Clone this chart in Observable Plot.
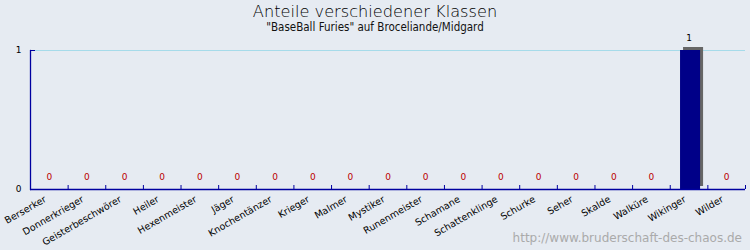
<!DOCTYPE html>
<html>
<head>
<meta charset="utf-8">
<script src="https://cdn.jsdelivr.net/npm/d3@7"></script>
<script src="https://cdn.jsdelivr.net/npm/@observablehq/plot@0.6"></script>
<style>
  html, body { margin: 0; padding: 0; background: #e6ebf2; }
  #wrap { position: relative; width: 750px; height: 250px; overflow: hidden; background: #e6ebf2; }
  #title { position: absolute; left: 0; width: 750px; top: 2px; text-align: center; font-family: "DejaVu Sans"; font-weight: 200; font-size: 16.2px; color: #000; }
  #subtitle { position: absolute; left: 0; width: 750px; top: 20px; text-align: center; font-family: "DejaVu Sans Condensed", "DejaVu Sans"; font-stretch: condensed; font-size: 11.5px; color: #111; }
  #credit { position: absolute; right: 8px; top: 231px; font-family: "DejaVu Sans"; font-size: 12px; color: #aaaaaa; }
  #chart { position: absolute; left: 0; top: 0; }
</style>
</head>
<body>
<div id="wrap">
  <div id="chart"></div>
  <div id="title">Anteile verschiedener Klassen</div>
  <div id="subtitle">"BaseBall Furies" auf Broceliande/Midgard</div>
  <div id="credit">http://www.bruderschaft-des-chaos.de</div>
</div>
<script>
const classes = ["Berserker","Donnerkrieger","Geisterbeschwörer","Heiler","Hexenmeister","Jäger","Knochentänzer","Krieger","Malmer","Mystiker","Runenmeister","Schamane","Schattenklinge","Schurke","Seher","Skalde","Walküre","Wikinger","Wilder"];
const counts = [0,0,0,0,0,0,0,0,0,0,0,0,0,0,0,0,0,1,0];
const yTicks = [0, 1];

const data = classes.map((k, i) => ({klasse: k, n: counts[i]}));

const W = 750, H = 250, ML = 30, MR = 5, MT = 50, MB = 61;
const bw = (W - ML - MR) / classes.length;
const axisColor = "#0000a0";

const chart = Plot.plot({
  width: W, height: H,
  marginLeft: ML, marginRight: MR, marginTop: MT, marginBottom: MB,
  style: {background: "transparent", fontFamily: "DejaVu Sans", fontSize: "9px", color: "#000"},
  x: {domain: classes, padding: 0, round: false, label: null},
  y: {domain: [0, 1], label: null},
  marks: [
    Plot.gridY(yTicks.filter(v => v > 0), {stroke: "#a6dbea", strokeOpacity: 1, strokeWidth: 1}),
    Plot.barY(data, {x: "klasse", y: "n", fill: "#666666", insetLeft: 10.3, insetRight: 7.3, dx: 3, dy: -3}),
    Plot.barY(data, {x: "klasse", y: "n", fill: "#000088", insetLeft: 10.3, insetRight: 7.3}),
    Plot.text(data, {x: "klasse", y: "n", text: d => String(d.n), dy: -12, fill: d => d.n > 0 ? "#000000" : "#bb0000", fontSize: 9}),
    Plot.axisX({tickSize: 0, tickPadding: 9, tickRotate: -30, dx: -4, fontSize: 9.5, fill: "#000", label: null}),
    Plot.axisX(classes, {text: null, tickSize: -4, dx: -bw / 2, stroke: axisColor, label: null}),
    Plot.axisX([classes[classes.length - 1]], {text: null, tickSize: -4, dx: bw / 2, stroke: axisColor, label: null}),
    Plot.axisY({ticks: yTicks, tickSize: 0, tickPadding: 9, tickFormat: d => String(d), fill: "#000", label: null}),
    Plot.axisY({ticks: yTicks, text: null, tickSize: -5, stroke: axisColor, label: null}),
    Plot.ruleY([0], {stroke: axisColor, strokeWidth: 1.3}),
    Plot.frame({anchor: "left", stroke: axisColor, strokeWidth: 1.3})
  ]
});
document.getElementById("chart").appendChild(chart);
</script>
</body>
</html>
